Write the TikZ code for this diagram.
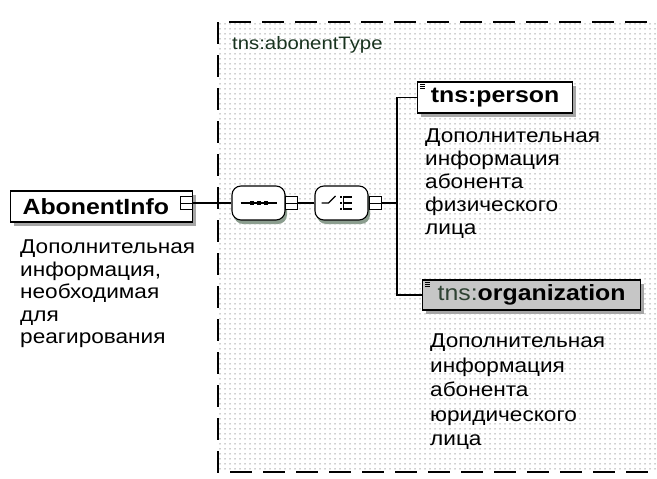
\documentclass[tikz,border=0pt]{standalone}
\usepackage{fontspec}
\setmainfont{Liberation Sans}[FakeStretch=1.13]
\usetikzlibrary{shadows,patterns.meta}
\definecolor{typegreen}{rgb}{0.10,0.20,0.12}
\definecolor{shadegreen}{rgb}{0.55,0.62,0.56}

\begin{document}
\begin{tikzpicture}[x=1pt,y=-1pt,
	elem/.style={draw,line width=1.2pt,fill=white,font=\fontsize{22}{24}\selectfont\bfseries,minimum height=31pt,inner xsep=10pt,anchor=west,drop shadow={shadow xshift=3pt,shadow yshift=-4pt,fill=gray!70,opacity=1}},
	doc/.style={font=\fontsize{20}{23}\selectfont,align=left,anchor=north west,inner sep=0pt},
	comp/.style={draw,line width=1.1pt,fill=white,rounded corners=9pt,minimum width=53pt,minimum height=34pt,inner sep=0pt,drop shadow={shadow xshift=2pt,shadow yshift=-4pt,fill=shadegreen,opacity=1}},
	minus/.style={draw,line width=0.9pt,fill=white,minimum width=12pt,minimum height=13pt,inner sep=0pt,path picture={\draw[line width=0.9pt] (path picture bounding box.west) -- (path picture bounding box.east);}},
	wire/.style={line width=1.1pt}]
	\useasboundingbox (0,0) rectangle (657,479);
	% complex type frame
	\draw [dash pattern=on 22pt off 11pt,line width=1.3pt,pattern={Dots[distance=5pt,radius=0.75pt]},pattern color=gray!75]
		(680,22) -- (218,22) -- (218,472) -- (680,472);
	\node [anchor=west,inner sep=0pt,text=typegreen,font=\fontsize{18}{20}\selectfont] (typename) at (232,45) {tns:abonentType};
	% elements
	\node [elem,minimum width=182pt,text width=158pt,align=left,inner xsep=12pt] (info) at (10,206.5) {AbonentInfo};
	\node [minus] (infominus) at (186,203) {};
	\node [comp] (seq) at (258.5,203) {};
	\node [minus] (seqminus) at (291.5,203) {};
	\node [comp] (choice) at (341.5,203) {};
	\node [minus] (choiceminus) at (375,203) {};
	\coordinate (fork) at (397,203);
	\node [elem,minimum width=155pt] (person) at (417,97.5) {tns:person};
	\node [elem,minimum width=218pt,minimum height=30pt,fill=gray!45] (org) at (422,295) {{\color{typegreen!80!gray}\mdseries tns:}organization};
	% sequence and choice marks
	\begin{scope}[shift={(seq)}]
		\draw [line width=1.1pt] (-18,0) -- (18,0);
		\foreach \dx in {-7,0,7}
			\fill (\dx-2,-1.8) rectangle (\dx+2,1.8);
	\end{scope}
	\begin{scope}[shift={(choice)},line width=1.1pt]
		\draw (-20,0) -- (-13,0) -- (-6,-7);
		\draw (2,-7) -- (2,7);
		\foreach \dy in {-6,0,6}
		{
			\draw (2,\dy) -- (10,\dy);
			\fill (-2,\dy-1) rectangle (0,\dy+1);
		}
	\end{scope}
	\foreach \el in {person,org}
		\draw [line width=0.6pt,shift={(\el.north west)}] (3,3) -- (8,3) (3,5) -- (8,5) (3,7) -- (8,7);
	% connectors
	\draw [wire] (infominus) -- (seq);
	\draw [wire] (seqminus) -- (choice);
	\draw [wire] (choiceminus) -- (fork);
	\draw [wire] (fork) |- (person.west);
	\draw [wire] (fork) |- (org.west);
	% annotations
	\node [doc,font=\fontsize{20}{22.5}\selectfont] (infodoc) at (20,240) {Дополнительная\\информация,\\необходимая\\для\\реагирования};
	\node [doc] (persondoc) at (425,129) {Дополнительная\\информация\\абонента\\физического\\лица};
	\node [doc,font=\fontsize{20}{24.5}\selectfont] (orgdoc) at (430,334) {Дополнительная\\информация\\абонента\\юридического\\лица};
\end{tikzpicture}
\end{document}
